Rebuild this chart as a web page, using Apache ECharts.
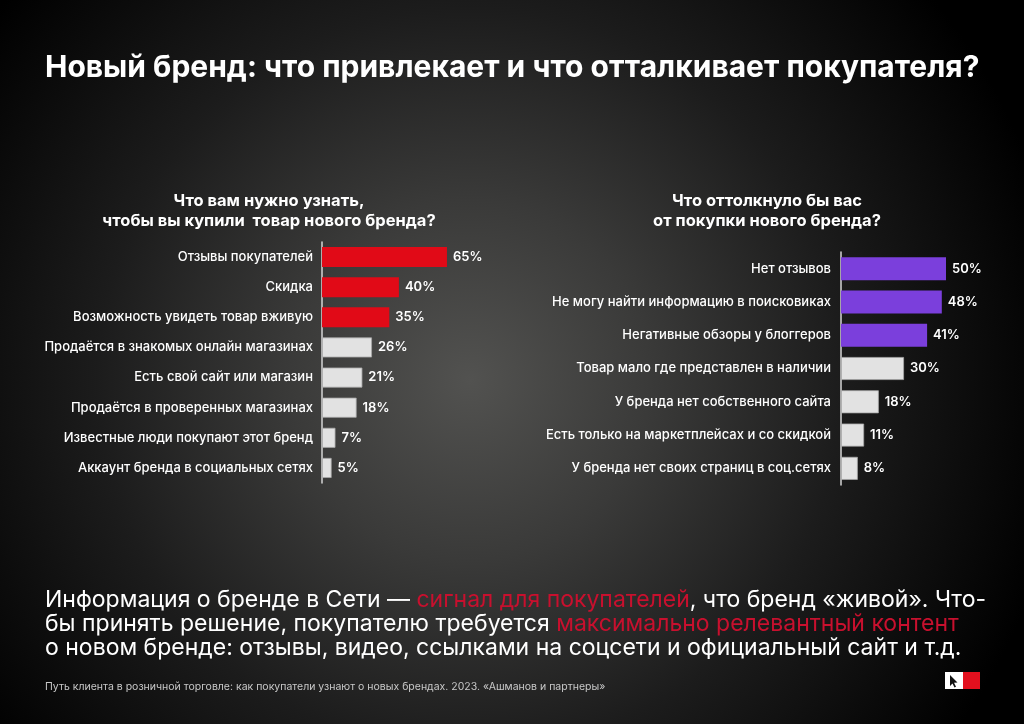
<!DOCTYPE html>
<html>
<head>
<meta charset="utf-8">
<script src="https://cdn.jsdelivr.net/npm/echarts@6/dist/echarts.min.js"></script>
<style>
html,body{margin:0;padding:0;background:#000;}
#c{width:1024px;height:724px;background:radial-gradient(circle 600px at 470px 380px,#525250 0%,#3a3a39 30%,#1c1c1c 62%,#000 100%);}
</style>
</head>
<body>
<div id="c"></div>
<script>
var mainTitle = 'Новый бренд: что привлекает и что отталкивает покупателя?';
var leftTitle = 'Что вам нужно узнать,\nчтобы вы купили  товар нового бренда?';
var rightTitle = 'Что оттолкнуло бы вас\nот покупки нового бренда?';
var leftCategories = ['Отзывы покупателей','Скидка','Возможность увидеть товар вживую','Продаётся в знакомых онлайн магазинах','Есть свой сайт или магазин','Продаётся в проверенных магазинах','Известные люди покупают этот бренд','Аккаунт бренда в социальных сетях'];
var leftValues = [65,40,35,26,21,18,7,5];
var rightCategories = ['Нет отзывов','Не могу найти информацию в поисковиках','Негативные обзоры у блоггеров','Товар мало где представлен в наличии','У бренда нет собственного сайта','Есть только на маркетплейсах и со скидкой','У бренда нет своих страниц в соц.сетях'];
var rightValues = [50,48,41,30,18,11,8];
var highlightCount = 3;
var footerText = 'Путь клиента в розничной торговле: как покупатели узнают о новых брендах. 2023. «Ашманов и партнеры»';

var FONT = 'Inter, Roboto, "Noto Sans", sans-serif';
var chart = echarts.init(document.getElementById('c'), null, {renderer:'canvas'});

function barItems(values, hi, grey){
  return values.map(function(v,i){
    var c = i < highlightCount ? hi : grey;
    return {value:v, itemStyle:{color:c, borderColor: i<highlightCount? hi : '#a8a8a8', borderWidth: i<highlightCount?0:0.8}};
  });
}

var catAxis = function(gi, cats, margin){
  return {
    type:'category', gridIndex:gi, data:cats, inverse:true,
    axisTick:{show:false},
    axisLine:{show:true, lineStyle:{color:'#d6d6d6', width:1.5}},
    axisLabel:{color:'#ffffff', fontFamily:FONT, fontSize:13, fontWeight:500, margin:margin}
  };
};
var valAxis = function(gi, mx){
  return {type:'value', gridIndex:gi, min:0, max:mx, show:false, splitLine:{show:false}};
};
var lbl = {show:true, position:'right', distance:6, color:'#ffffff', fontFamily:FONT, fontSize:13, fontWeight:600, formatter:'{c}%'};

chart.setOption({
  backgroundColor:'transparent',
  animation:false,
  title:[
    {text:mainTitle, left:40, top:48, textStyle:{color:'#ffffff', fontFamily:FONT, fontSize:30, fontWeight:700}},
    {text:leftTitle, left:264, top:186, textAlign:'center', textStyle:{color:'#ffffff', fontFamily:FONT, fontSize:16.5, fontWeight:700, lineHeight:20}},
    {text:rightTitle, left:762, top:186, textAlign:'center', textStyle:{color:'#ffffff', fontFamily:FONT, fontSize:16.5, fontWeight:700, lineHeight:20}}
  ],
  grid:[
    {left:322, width:153.8, top:242, height:241},
    {left:841, width:126, top:252, height:233}
  ],
  xAxis:[valAxis(0, 80), valAxis(1, 60)],
  yAxis:[catAxis(0, leftCategories, 9), catAxis(1, rightCategories, 10)],
  series:[
    {type:'bar', xAxisIndex:0, yAxisIndex:0, barWidth:20, data:barItems(leftValues,'#e10a17','#e2e2e2'), label:lbl},
    {type:'bar', xAxisIndex:1, yAxisIndex:1, barWidth:23, data:barItems(rightValues,'#7b3fdc','#e2e2e2'), label:lbl}
  ],
  graphic:[
    {type:'text', left:45, top:589, style:{
      rich:{w:{fill:'#ffffff', fontFamily:FONT, fontSize:23, fontWeight:400, lineHeight:24}, r:{fill:'#c8102e', fontFamily:FONT, fontSize:23, fontWeight:400, lineHeight:24}},
      text:'{w|Информация о бренде в Сети — }{r|сигнал для покупателей}{w|, что бренд «живой». Что-}\n{w|бы принять решение, покупателю требуется }{r|максимально релевантный контент}\n{w|о новом бренде: отзывы, видео, ссылками на соцсети и официальный сайт и т.д.}'
    }},
    {type:'text', left:45, top:681, style:{text:footerText, fill:'#c8c8c8', fontFamily:FONT, fontSize:10.5, fontWeight:400}},
    {type:'rect', shape:{x:945, y:672, width:18, height:17}, style:{fill:'#ffffff'}},
    {type:'rect', shape:{x:963, y:672, width:17, height:17}, style:{fill:'#e3101e'}},
    {type:'polygon', shape:{points:[[950,675],[950,686],[952.5,683.5],[954.5,687.5],[956,686.8],[954,682.8],[957.5,682.5]]}, style:{fill:'#111111'}}
  ]
});
</script>
</body>
</html>
